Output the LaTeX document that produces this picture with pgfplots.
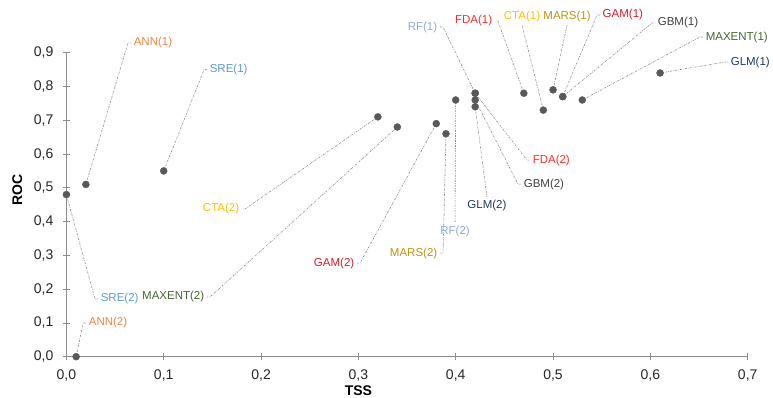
\documentclass[border=0pt]{standalone}
\usepackage{pgfplots}
\pgfplotsset{compat=1.18}
\usepackage{fontspec}
\setmainfont{Liberation Sans}
\definecolor{ptc}{HTML}{595959}
\definecolor{axc}{HTML}{8C8C8C}
\definecolor{leadc}{HTML}{8A8A8A}
\definecolor{annc}{HTML}{F0823C}
\definecolor{srec}{HTML}{5B9BD5}
\definecolor{rfc}{HTML}{8EA9DB}
\definecolor{fdac}{HTML}{FF2828}
\definecolor{ctac}{HTML}{FFC000}
\definecolor{marsc}{HTML}{C09010}
\definecolor{gamc}{HTML}{D11F2B}
\definecolor{gbmc}{HTML}{404040}
\definecolor{maxc}{HTML}{43682B}
\definecolor{glmc}{HTML}{203864}
\pgfplotstableread{
x y
0.02 0.51
0.10 0.55
0.42 0.78
0.47 0.78
0.49 0.73
0.50 0.79
0.51 0.77
0.51 0.77
0.53 0.76
0.61 0.84
0.42 0.78
0.42 0.76
0.42 0.74
0.40 0.76
0.39 0.66
0.38 0.69
0.32 0.71
0.34 0.68
0.00 0.48
0.01 0.00
}\pts
\tikzset{lead/.style={draw=leadc, line width=0.6pt, dash pattern=on 2pt off 1.2pt on 0.6pt off 1.2pt},
  lab/.style={font=\fontsize{11.5}{12}\selectfont, inner sep=2.5pt}}
\begin{document}
\begin{tikzpicture}
\begin{axis}[
  scale only axis, width=681.3pt, height=304pt,
  at={(0,0)}, anchor=south west,
  xmin=0, xmax=0.7, ymin=0, ymax=0.9,
  clip=false,
  axis lines=left,
  axis line style={-, draw=axc, line width=0.8pt},
  xtick={0,0.1,0.2,0.3,0.4,0.5,0.6,0.7},
  ytick={0,0.1,0.2,0.3,0.4,0.5,0.6,0.7,0.8,0.9},
  tick align=center, major tick length=7pt,
  tick style={draw=axc, line width=0.8pt},
  /pgf/number format/use comma,
  /pgf/number format/fixed,
  /pgf/number format/fixed zerofill,
  /pgf/number format/precision=1,
  /pgf/number format/assume math mode=true,
  tick label style={font=\fontsize{14}{14}\selectfont, text=black!85},
  xticklabel style={yshift=-6pt},
  yticklabel style={xshift=-6pt},
  xlabel={\textbf{TSS}}, ylabel={\textbf{ROC}},
  xlabel style={at={(axis description cs:0.4286,0)}, anchor=center, yshift=-33.5pt, font=\fontsize{14}{14}\selectfont},
  ylabel style={at={(axis description cs:0,0.548)}, anchor=center, yshift=49pt, font=\fontsize{14}{14}\selectfont},
]
% leaders and labels
\draw[lead] (axis cs:0.02,0.51) -- (axis cs:0.0633,0.9287) -- ++(3pt,0) node[lab,right,text=annc]{ANN(1)};
\draw[lead] (axis cs:0.10,0.55) -- (axis cs:0.1414,0.8496) -- ++(3pt,0) node[lab,right,text=srec]{SRE(1)};
\draw[lead] (axis cs:0.42,0.78) -- (axis cs:0.3869,0.9760) -- ++(-3pt,0) node[lab,left,text=rfc]{RF(1)};
\draw[lead] (axis cs:0.47,0.78) -- (axis cs:0.4434,0.9938) -- ++(-3pt,0) node[lab,left,text=fdac]{FDA(1)};
\draw[lead] (axis cs:0.49,0.73) -- (axis cs:0.4681,0.9820) node[lab,above,text=ctac]{CTA(1)};
\draw[lead] (axis cs:0.50,0.79) -- (axis cs:0.5144,0.9820) node[lab,above,text=marsc]{MARS(1)};
\draw[lead] (axis cs:0.51,0.77) -- (axis cs:0.5451,1.0116) -- ++(3pt,0) node[lab,right,text=gamc]{GAM(1)};
\draw[lead] (axis cs:0.51,0.77) -- (axis cs:0.6017,0.9879) -- ++(3pt,0) node[lab,right,text=gbmc]{GBM(1)};
\draw[lead] (axis cs:0.53,0.76) -- (axis cs:0.6510,0.9464) -- ++(3pt,0) node[lab,right,text=maxc]{MAXENT(1)};
\draw[lead] (axis cs:0.61,0.84) -- (axis cs:0.6767,0.8724) -- ++(3pt,0) node[lab,right,text=glmc]{GLM(1)};
\draw[lead] (axis cs:0.42,0.78) -- (axis cs:0.4732,0.5820) -- ++(3pt,0) node[lab,right,text=fdac]{FDA(2)};
\draw[lead] (axis cs:0.42,0.76) -- (axis cs:0.4640,0.5110) -- ++(3pt,0) node[lab,right,text=gbmc]{GBM(2)};
\draw[lead] (axis cs:0.42,0.74) -- (axis cs:0.4321,0.4725) node[lab,below,text=glmc]{GLM(2)};
\draw[lead] (axis cs:0.40,0.76) -- (axis cs:0.3993,0.3955) node[lab,below,text=rfc]{RF(2)};
\draw[lead] (axis cs:0.39,0.66) -- (axis cs:0.3870,0.3067) -- ++(-3pt,0) node[lab,left,text=marsc]{MARS(2)};
\draw[lead] (axis cs:0.38,0.69) -- (axis cs:0.3017,0.2771) -- ++(-3pt,0) node[lab,left,text=gamc]{GAM(2)};
\draw[lead] (axis cs:0.32,0.71) -- (axis cs:0.1835,0.4373) -- ++(-3pt,0) node[lab,left,text=ctac]{CTA(2)};
\draw[lead] (axis cs:0.34,0.68) -- (axis cs:0.1475,0.1767) -- ++(-3pt,0) node[lab,left,text=maxc]{MAXENT(2)};
\draw[lead] (axis cs:0.00,0.48) -- (axis cs:0.0294,0.1708) -- ++(3pt,0) node[lab,right,text=srec]{SRE(2)};
\draw[lead] (axis cs:0.01,0.00) -- (axis cs:0.0171,0.0998) -- ++(3pt,0) node[lab,right,text=annc]{ANN(2)};
\addplot[only marks, mark=*, mark size=3.5pt, draw=ptc, fill=ptc] table[x=x,y=y] {\pts};
\end{axis}
\pgfresetboundingbox
\path (-66.4pt,-41.3pt) rectangle (706.6pt,356.7pt);
\end{tikzpicture}
\end{document}
